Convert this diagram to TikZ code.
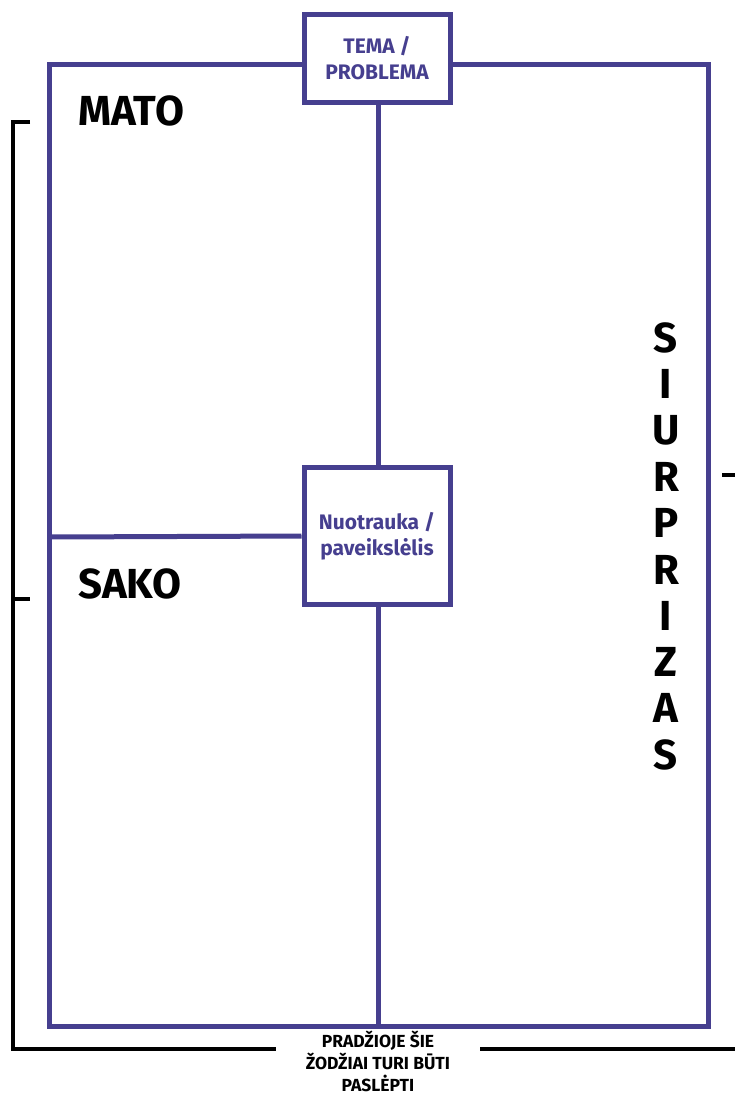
\documentclass[tikz,border=0pt]{standalone}
\usepackage{fontspec}
\setmainfont{Fira Sans}
\definecolor{frameblue}{HTML}{463F8F}
\begin{document}
\begin{tikzpicture}[x=1pt,y=-1pt,
  purpleline/.style={draw=frameblue,line width=5pt},
  blackline/.style={draw=black,line width=4pt},
  whitebox/.style={purpleline,fill=white,inner sep=0pt,align=center,text=frameblue,font=\fontsize{21}{26}\selectfont\bfseries},
  bigword/.style={font=\fontsize{42}{46}\selectfont\bfseries,anchor=west,inner sep=0pt},
  vletter/.style={font=\fontsize{42}{46}\selectfont\bfseries,inner sep=0pt},
  note/.style={font=\fontsize{17.5}{22}\selectfont\bfseries,align=center,inner sep=0pt}]
\useasboundingbox (0,0) rectangle (735,1095);
\fill[white] (0,0) rectangle (735,1095);
% frame
\coordinate (ftl) at (49,64);
\coordinate (fbr) at (708,1026);
\draw[purpleline] (ftl) rectangle (fbr);
\coordinate (bmid) at (378,1026);
\coordinate (lmid) at (49,537);
% boxes
\node[whitebox,minimum width=146pt,minimum height=88pt] (tema) at (377,58.5) {TEMA /\\PROBLEMA};
\node[whitebox,minimum width=146pt,minimum height=137pt] (foto) at (377,536) {Nuotrauka /\\paveikslėlis};
\draw[purpleline] (tema.south -| bmid) -- (foto.north -| bmid);
\draw[purpleline] (foto.south -| bmid) -- (bmid);
\draw[purpleline] (lmid) -- (foto.west);
% labels
\node[bigword] (mato) at (78,111) {MATO};
\node[bigword] (sako) at (78,584) {SAKO};
\foreach \l [count=\i] in {S,I,U,R,P,R,I,Z,A,S} {
  \node[vletter] (v\i) at (666,338+\i*46.3-46.3) {\l};
}
% bracket
\coordinate (btop) at (13,122);
\coordinate (btick) at (13,599);
\coordinate (bbot) at (13,1049);
\coordinate (bleftend) at (276,1049);
\coordinate (brightstart) at (480,1049);
\coordinate (brightend) at (735,1049);
\coordinate (rtick) at (722,475);
\coordinate (rtickend) at (735,475);
\draw[blackline] (30,122) -- (btop) -- (bbot) -- (bleftend);
\draw[blackline] (btick) -- (30,599);
\draw[blackline] (brightstart) -- (brightend);
\draw[blackline] (rtick) -- (rtickend);
\node[note] (hint) at (378,1061.5) {PRADŽIOJE ŠIE\\ŽODŽIAI TURI BŪTI\\PASLĖPTI};
\end{tikzpicture}
\end{document}
